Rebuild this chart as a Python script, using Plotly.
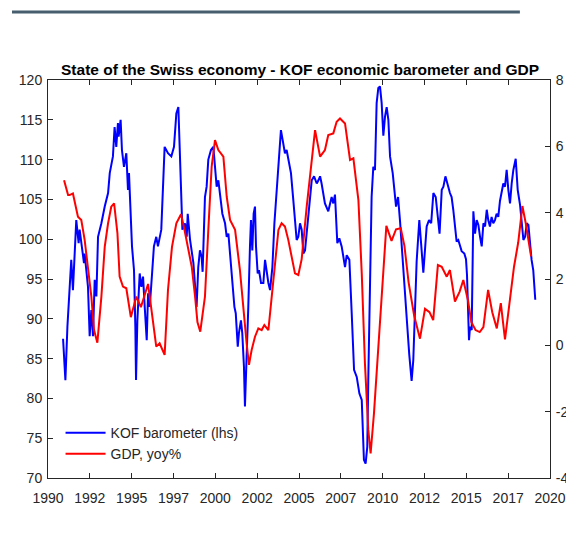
import plotly.graph_objects as go

# KOF economic barometer (lhs) as (decimal year, value)
kof_year = [
    1990.90, 1991.04, 1991.16, 1991.24, 1991.39, 1991.49, 1991.69, 1991.83, 1991.89, 1992.15,
    1992.19, 1992.39, 1992.49, 1992.59, 1992.69, 1992.79, 1992.89, 1992.99, 1993.19, 1993.39,
    1993.59, 1993.69, 1993.88, 1993.98, 1994.08, 1994.18, 1994.22, 1994.34, 1994.42, 1994.54,
    1994.68, 1994.78, 1994.84, 1995.02, 1995.14, 1995.22, 1995.26, 1995.34, 1995.48, 1995.58,
    1995.68, 1995.78, 1995.90, 1995.98, 1996.08, 1996.22, 1996.33, 1996.47, 1996.57, 1996.77,
    1996.87, 1996.97, 1997.17, 1997.37, 1997.53, 1997.67, 1997.79, 1997.89, 1997.99, 1998.03,
    1998.19, 1998.29, 1998.35, 1998.49, 1998.69, 1998.83, 1998.88, 1998.98, 1999.08, 1999.18,
    1999.24, 1999.38, 1999.48, 1999.58, 1999.74, 1999.88, 1999.98, 2000.08, 2000.18, 2000.28,
    2000.42, 2000.58, 2000.68, 2000.78, 2000.88, 2001.02, 2001.14, 2001.22, 2001.34, 2001.41,
    2001.53, 2001.61, 2001.71, 2001.77, 2001.87, 2001.97, 2002.07, 2002.13, 2002.21, 2002.29,
    2002.37, 2002.43, 2002.53, 2002.61, 2002.73, 2002.87, 2002.97, 2003.07, 2003.17, 2003.27,
    2003.41, 2003.53, 2003.67, 2003.77, 2003.92, 2004.02, 2004.16, 2004.26, 2004.36, 2004.52,
    2004.66, 2004.76, 2004.86, 2004.96, 2005.06, 2005.16, 2005.26, 2005.36, 2005.56, 2005.76,
    2005.90, 2006.06, 2006.16, 2006.26, 2006.35, 2006.55, 2006.75, 2006.95, 2007.05, 2007.15,
    2007.29, 2007.41, 2007.55, 2007.75, 2007.85, 2008.01, 2008.15, 2008.29, 2008.45, 2008.61,
    2008.75, 2008.81, 2008.88, 2008.98, 2009.08, 2009.14, 2009.24, 2009.34, 2009.44, 2009.54,
    2009.64, 2009.74, 2009.84, 2009.94, 2010.04, 2010.14, 2010.24, 2010.34, 2010.44, 2010.60,
    2010.80, 2010.92, 2011.04, 2011.24, 2011.44, 2011.59, 2011.73, 2011.83, 2011.93, 2012.03,
    2012.19, 2012.43, 2012.63, 2012.77, 2012.90, 2013.03, 2013.17, 2013.29, 2013.40, 2013.53,
    2013.63, 2013.75, 2013.83, 2013.92, 2014.02, 2014.12, 2014.22, 2014.32, 2014.42, 2014.52,
    2014.62, 2014.72, 2014.88, 2014.98, 2015.04, 2015.12, 2015.16, 2015.22, 2015.32, 2015.42,
    2015.52, 2015.62, 2015.72, 2015.82, 2015.92, 2016.02, 2016.12, 2016.22, 2016.31, 2016.41,
    2016.51, 2016.61, 2016.71, 2016.81, 2016.91, 2017.01, 2017.11, 2017.21, 2017.31, 2017.41,
    2017.51, 2017.61, 2017.71, 2017.81, 2017.95, 2018.07, 2018.21, 2018.31, 2018.41, 2018.51,
    2018.61, 2018.71, 2018.81, 2018.90, 2019.00, 2019.12,
]
kof_value = [
    87.5, 82.3, 89.0, 91.5, 97.4, 93.6, 102.4, 99.5, 101.2, 97.0,
    98.2, 94.0, 87.8, 91.1, 87.8, 94.9, 92.8, 100.3, 102.0, 104.1,
    105.8, 108.3, 110.4, 114.1, 111.6, 114.6, 112.9, 115.0, 111.2, 109.1,
    110.8, 106.2, 108.3, 99.1, 96.1, 89.0, 82.3, 89.8, 95.7, 94.0,
    95.3, 91.5, 87.3, 93.2, 91.5, 95.7, 99.1, 100.3, 99.1, 101.2,
    107.4, 111.6, 110.8, 110.4, 111.6, 115.8, 116.6, 110.4, 103.2, 101.2,
    102.0, 100.3, 103.2, 99.9, 97.0, 92.8, 91.5, 96.5, 98.6, 97.8,
    95.9, 105.3, 106.6, 110.0, 111.2, 111.6, 108.7, 106.6, 107.4, 105.8,
    103.2, 102.0, 100.3, 100.7, 98.2, 94.0, 91.5, 90.7, 86.5, 88.2,
    89.8, 88.2, 84.0, 79.0, 84.4, 91.5, 99.1, 102.4, 98.6, 103.2,
    104.1, 99.1, 95.7, 96.1, 94.5, 94.5, 97.4, 95.7, 94.5, 93.6,
    96.5, 102.0, 106.2, 110.4, 113.7, 112.5, 110.8, 111.2, 110.0, 108.3,
    104.9, 102.4, 99.9, 100.3, 102.0, 101.2, 98.2, 98.6, 103.2, 107.4,
    107.9, 107.0, 107.4, 107.9, 107.0, 104.5, 103.5, 105.3, 104.5, 105.6,
    99.5, 100.1, 99.1, 96.5, 98.0, 97.4, 90.7, 83.6, 82.7, 80.6,
    79.8, 74.8, 72.3, 71.8, 73.9, 82.3, 94.9, 105.3, 109.1, 108.7,
    117.1, 119.0, 119.2, 117.1, 113.0, 115.4, 116.6, 115.0, 110.4, 108.3,
    104.1, 105.3, 102.2, 95.5, 90.0, 85.5, 82.2, 84.8, 90.7, 97.2,
    102.4, 95.8, 101.6, 102.4, 102.0, 105.8, 105.3, 103.2, 100.7, 106.2,
    106.6, 107.9, 107.4, 106.6, 105.8, 105.3, 103.7, 101.6, 99.7, 99.9,
    99.1, 98.5, 98.2, 97.5, 95.5, 88.5, 87.3, 89.0, 88.6, 103.5,
    100.7, 102.4, 101.8, 100.3, 99.1, 102.0, 101.6, 103.7, 102.4, 101.6,
    102.8, 102.0, 102.4, 103.2, 102.8, 104.8, 105.8, 107.0, 106.6, 108.7,
    106.2, 104.5, 107.0, 108.7, 110.1, 106.2, 104.3, 101.6, 99.9, 100.3,
    102.0, 101.8, 99.3, 97.4, 96.1, 92.4,
]

# GDP growth, yoy % (rhs)
gdp_year = [
    1990.96, 1991.20, 1991.29, 1991.49, 1991.79, 1991.99, 1992.19, 1992.39, 1992.59, 1992.75,
    1992.95, 1993.19, 1993.39, 1993.59, 1993.78, 1993.95, 1994.15, 1994.28, 1994.48, 1994.68,
    1994.95, 1995.28, 1995.55, 1995.98, 1996.15, 1996.47, 1996.67, 1996.97, 1997.17, 1997.41,
    1997.67, 1997.95, 1998.15, 1998.39, 1998.59, 1998.79, 1998.93, 1999.10, 1999.38, 1999.58,
    1999.78, 1999.98, 2000.18, 2000.48, 2000.68, 2000.88, 2001.18, 2001.47, 2001.67, 2001.87,
    2002.01, 2002.17, 2002.37, 2002.57, 2002.77, 2002.93, 2003.17, 2003.37, 2003.57, 2003.77,
    2003.96, 2004.16, 2004.36, 2004.56, 2004.76, 2004.96, 2005.16, 2005.46, 2005.76, 2005.96,
    2006.26, 2006.55, 2006.75, 2007.05, 2007.25, 2007.45, 2007.75, 2007.85, 2008.05, 2008.25,
    2008.55, 2008.75, 2008.94, 2009.14, 2009.28, 2009.48, 2009.74, 2010.00, 2010.22, 2010.53,
    2010.80, 2011.08, 2011.30, 2011.55, 2011.88, 2012.23, 2012.53, 2012.80, 2013.02, 2013.30,
    2013.53, 2013.83, 2014.02, 2014.32, 2014.60, 2014.82, 2015.10, 2015.30, 2015.55, 2015.80,
    2016.02, 2016.30, 2016.55, 2016.82, 2017.06, 2017.31, 2017.60, 2017.85, 2018.10, 2018.35,
    2018.55, 2018.75, 2018.87,
]
gdp_value = [
    4.98, 4.53, 4.53, 4.58, 3.88, 3.78, 3.18, 2.37, 1.47, 0.46,
    0.08, 1.47, 2.97, 3.68, 4.18, 4.28, 3.38, 2.07, 1.77, 1.72,
    0.85, 1.47, 1.15, 1.85, 1.20, -0.04, 0.06, -0.29, 1.67, 2.97,
    3.68, 3.95, 3.50, 2.87, 2.37, 1.47, 0.70, 0.41, 1.47, 3.48,
    5.39, 6.19, 5.89, 5.69, 4.48, 3.78, 3.48, 2.27, 1.07, 0.06,
    -0.59, -0.14, 0.26, 0.51, 0.46, 0.61, 0.46, 1.47, 2.67, 3.48,
    3.68, 3.58, 3.18, 2.67, 2.17, 2.12, 2.60, 4.18, 5.49, 6.49,
    5.69, 5.89, 6.34, 6.39, 6.74, 6.84, 6.69, 6.29, 5.59, 5.64,
    4.38, 2.17, -0.54, -2.55, -3.26, -2.05, -0.04, 2.17, 3.60, 3.15,
    3.50, 3.53, 3.00, 1.90, 0.90, 0.20, 1.10, 1.00, 0.76, 2.42,
    2.37, 2.07, 2.27, 1.32, 1.62, 1.97, 1.35, 0.70, 0.46, 0.40,
    0.55, 1.67, 1.00, 0.51, 1.27, 0.18, 1.45, 2.37, 3.10, 4.20,
    3.68, 3.00, 2.68,
]

# axis ticks (MATLAB style: every 2.5 years, label = integer year)
x_tickvals = [1990, 1992.5, 1995, 1997.5, 2000, 2002.5, 2005, 2007.5, 2010, 2012.5, 2015, 2017.5, 2020]
x_ticktext = ["1990", "1992", "1995", "1997", "2000", "2002", "2005", "2007", "2010", "2012", "2015", "2017", "2020"]
y1_tickvals = [70, 75, 80, 85, 90, 95, 100, 105, 110, 115, 120]
y2_tickvals = [-4, -2, 0, 2, 4, 6, 8]
y2_ticktext = ["-4", "-2", "0", "2", "4", "6", "8"]

axis_col = "#262626"
font_fam = "Liberation Sans, Arial, sans-serif"

fig = go.Figure()

fig.add_trace(go.Scatter(
    x=kof_year, y=kof_value, mode="lines", name="KOF barometer (lhs)",
    line=dict(color="#0000ff", width=2), yaxis="y",
))
fig.add_trace(go.Scatter(
    x=gdp_year, y=gdp_value, mode="lines", name="GDP, yoy%",
    line=dict(color="#ff0000", width=2), yaxis="y2",
))

# page body has an 8px margin: keep the figure small enough that no scrollbar appears
fig.update_layout(
    width=566, height=520,
    paper_bgcolor="white", plot_bgcolor="white",
    margin=dict(l=40, r=24, t=72, b=50),
    font=dict(family=font_fam, size=14, color=axis_col),
    title=dict(
        text="<b>State of the Swiss economy - KOF economic barometer and GDP</b>",
        x=0.516, xanchor="center", y=0.8808, yanchor="middle",
        font=dict(size=15.5, color="#000000"),
    ),
    xaxis=dict(
        range=[1990, 2020], tickvals=x_tickvals, ticktext=x_ticktext,
        showgrid=False, zeroline=False, showline=True, linecolor=axis_col, linewidth=1,
        mirror="ticks", ticks="inside", ticklen=5, tickcolor=axis_col,
        ticklabelstandoff=7, automargin=False,
    ),
    yaxis=dict(
        range=[70, 120], tickvals=y1_tickvals,
        showgrid=False, zeroline=False, showline=True, linecolor=axis_col, linewidth=1,
        ticks="inside", ticklen=5, tickcolor=axis_col, ticklabelstandoff=2,
        automargin=False,
    ),
    yaxis2=dict(
        range=[-4, 8], tickvals=y2_tickvals, ticktext=y2_ticktext,
        overlaying="y", side="right",
        showgrid=False, zeroline=False, showline=True, linecolor=axis_col, linewidth=1,
        ticks="inside", ticklen=5, tickcolor=axis_col, ticklabelstandoff=2,
        automargin=False, ticklabeloverflow="allow",
    ),
    legend=dict(
        x=0.025, y=0.02, xanchor="left", yanchor="bottom",
        bgcolor="rgba(0,0,0,0)", font=dict(size=14, color=axis_col),
        tracegroupgap=0, itemwidth=40,
    ),
    shapes=[dict(
        type="line", xref="paper", yref="paper",
        x0=-0.0717, x1=0.940, y0=1.1709, y1=1.1709,
        line=dict(color="#465e6e", width=3),
    )],
)

fig.write_html("out.html")
